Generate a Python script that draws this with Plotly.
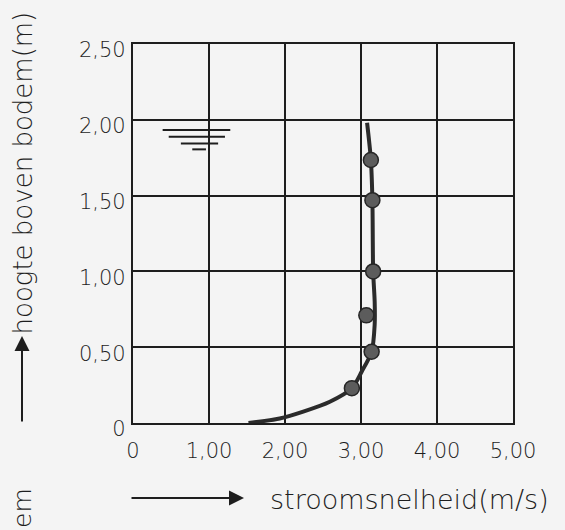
import plotly.graph_objects as go

# Measured points: flow velocity (m/s) against height above the bed (m)
meas_velocity = [2.88, 3.14, 3.07, 3.16, 3.15, 3.13]
meas_height = [0.23, 0.47, 0.71, 1.00, 1.47, 1.735]

# Fitted velocity profile
profile_velocity = [1.52, 1.93, 2.24, 2.59, 2.88, 3.01, 3.14, 3.18, 3.18, 3.16, 3.15, 3.13, 3.08]
profile_height = [0.0, 0.03, 0.075, 0.14, 0.23, 0.34, 0.47, 0.65, 0.80, 1.00, 1.47, 1.735, 1.98]

# Axis ticks (comma decimal)
x_tickvals = [0, 1, 2, 3, 4, 5]
x_ticktext = ["0", "1,00", "2,00", "3,00", "4,00", "5,00"]
y_tickvals = [0, 0.5, 1.0, 1.5, 2.0, 2.5]
y_ticktext = ["0", "0,50", "1,00", "1,50", "2,00", "2,50"]

# Water-surface symbol: stacked strokes (height, start, end)
wl_height = [1.933, 1.889, 1.844, 1.805]
wl_start = [0.39, 0.47, 0.63, 0.78]
wl_end = [1.28, 1.21, 1.12, 0.96]

FONT = "DejaVu Sans"
INK = "#1e1e1e"
PAPER = "#f4f4f4"

fig = go.Figure()

fig.add_trace(go.Scatter(
    x=profile_velocity, y=profile_height, mode="lines",
    line=dict(color="#2b2b2b", width=4, shape="spline", smoothing=0.8),
    hoverinfo="skip", showlegend=False,
))
fig.add_trace(go.Scatter(
    x=meas_velocity, y=meas_height, mode="markers",
    marker=dict(size=15, color="#5c5c5c", line=dict(color="#262626", width=1.5)),
    showlegend=False,
))

for h, a, b in zip(wl_height, wl_start, wl_end):
    fig.add_shape(type="line", x0=a, x1=b, y0=h, y1=h, xref="x", yref="y",
                  line=dict(color=INK, width=2))

L, R, T, B = 133, 52, 44, 107
W, H = 565, 530
PW, PH = W - L - R, H - T - B


def px(xp):
    return (xp - L) / PW


def py(yp):
    return (H - B - yp) / PH


# Axis titles with arrows
fig.add_annotation(x=px(22), y=py(336), xref="paper", yref="paper", text="",
                   showarrow=True, ax=0, ay=87, arrowhead=2, arrowsize=1.5,
                   arrowwidth=2, arrowcolor=INK)
fig.add_annotation(x=px(22), y=py(337), xref="paper", yref="paper",
                   text="hoogte boven bodem(m)", textangle=-90, showarrow=False,
                   xanchor="center", yanchor="bottom",
                   font=dict(family=FONT, size=26, color=INK, weight=200))
fig.add_annotation(x=px(244), y=py(498), xref="paper", yref="paper", text="",
                   showarrow=True, ax=-114, ay=0, arrowhead=2, arrowsize=1.5,
                   arrowwidth=2, arrowcolor=INK)
fig.add_annotation(x=px(268), y=py(499), xref="paper", yref="paper",
                   text="stroomsnelheid(m/s)", showarrow=False,
                   xanchor="left", yanchor="middle",
                   font=dict(family=FONT, size=27, color=INK, weight=200))
fig.add_annotation(x=px(22), y=py(486), xref="paper", yref="paper",
                   text="em", textangle=-90, showarrow=False,
                   xanchor="center", yanchor="top",
                   font=dict(family=FONT, size=25, color=INK, weight=200))

axis_common = dict(
    showgrid=True, gridcolor=INK, gridwidth=1.6,
    showline=True, linecolor=INK, linewidth=2.2, mirror=True,
    zeroline=False, ticks="", fixedrange=True,
    tickfont=dict(family=FONT, size=21, color=INK, weight=200),
)

fig.update_xaxes(range=[0, 5], tickvals=x_tickvals, ticktext=x_ticktext,
                 ticklabelstandoff=8, **axis_common)
fig.update_yaxes(range=[0, 2.5], tickvals=y_tickvals, ticktext=y_ticktext,
                 ticklabelstandoff=1, ticklabelshift=6, **axis_common)

fig.update_layout(
    width=W, height=H,
    margin=dict(l=L, r=R, t=T, b=B),
    paper_bgcolor=PAPER, plot_bgcolor=PAPER,
    showlegend=False,
)

fig.write_html("out.html")
